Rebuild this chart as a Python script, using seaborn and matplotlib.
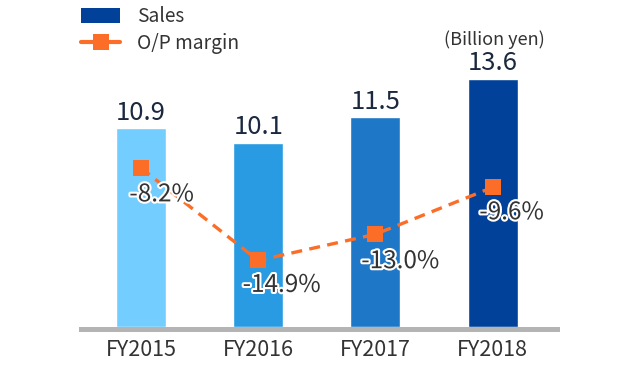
import matplotlib
matplotlib.use("Agg")
import matplotlib.pyplot as plt
import matplotlib.patheffects as pe
from matplotlib.patches import Patch
from matplotlib.lines import Line2D
import seaborn as sns
import pandas as pd

years = ["FY2015", "FY2016", "FY2017", "FY2018"]
sales = [10.9, 10.1, 11.5, 13.6]
margin = [-8.2, -14.9, -13.0, -9.6]
sales_labels = ["10.9", "10.1", "11.5", "13.6"]
margin_labels = ["-8.2%", "-14.9%", "-13.0%", "-9.6%"]

bar_colors = ["#74CDFF", "#299BE2", "#1F77C8", "#01419A"]
line_color = "#FC6E27"
label_offsets = [(15, -19), (17, -17.6), (18, -19.4), (13.7, -18)]

sns.set_style("white")
plt.rcParams["font.family"] = ["Noto Sans CJK JP", "DejaVu Sans"]

df = pd.DataFrame({"year": years, "sales": sales, "margin": margin})

fig = plt.figure(figsize=(6.4, 3.7), dpi=100)
ax = fig.add_axes([0.1266, 0.117, 0.7438, 0.7378])

sns.barplot(data=df, x="year", y="sales", hue="year", palette=bar_colors,
            width=0.426, saturation=1, legend=False, ax=ax)
ax.set_ylim(0, 15)
ax.set_xlim(-0.511, 3.549)
for s in ["top", "left", "right"]:
    ax.spines[s].set_visible(False)
ax.spines["bottom"].set_color("#B4B4B4")
ax.spines["bottom"].set_linewidth(3.6)
ax.spines["bottom"].set_position(("outward", 1.5))
ax.set_yticks([])
ax.set_xlabel("")
ax.set_ylabel("")
ax.tick_params(axis="x", length=0, pad=7, labelsize=15.5, labelcolor="#333333")

for i, (v, lab) in enumerate(zip(sales, sales_labels)):
    ax.annotate(lab, (i, v), xytext=(0, 2), textcoords="offset points",
                ha="center", va="bottom", fontsize=18.5, color="#1B2940")

ax2 = ax.twinx()
sns.pointplot(data=df, x="year", y="margin", color=line_color, markers="s",
              linestyles="--", ax=ax2, errorbar=None,
              markersize=11.5, linewidth=2.4)
for ln in ax2.lines:
    ln.set_markeredgewidth(0)
    ln.set_dashes((3.3, 2.2))
ax2.set_ylim(-19.7, 0.08)
ax2.set_xlim(-0.511, 3.549)
ax2.axis("off")

for i, (v, lab) in enumerate(zip(margin, margin_labels)):
    ax2.annotate(lab, (i, v), xytext=label_offsets[i], textcoords="offset points",
                 ha="center", va="center", fontsize=17.5, color="#333333",
                 path_effects=[pe.withStroke(linewidth=3, foreground="white")])

handles = [Patch(facecolor="#01419A", edgecolor="none"),
           Line2D([0], [0], color=line_color, lw=3, marker="s", markersize=12,
                  markeredgewidth=0)]
fig.legend(handles, ["Sales", "O/P margin"], loc="upper left",
           bbox_to_anchor=(0.099, 1.03), frameon=False, fontsize=13.8,
           handlelength=2.08, handleheight=0.8, handletextpad=0.85,
           labelspacing=0.3, labelcolor="#333333")

fig.text(0.851, 0.892, "(Billion yen)", ha="right", va="center",
         fontsize=13, color="#333333")

fig.savefig("out.png", dpi=100)
